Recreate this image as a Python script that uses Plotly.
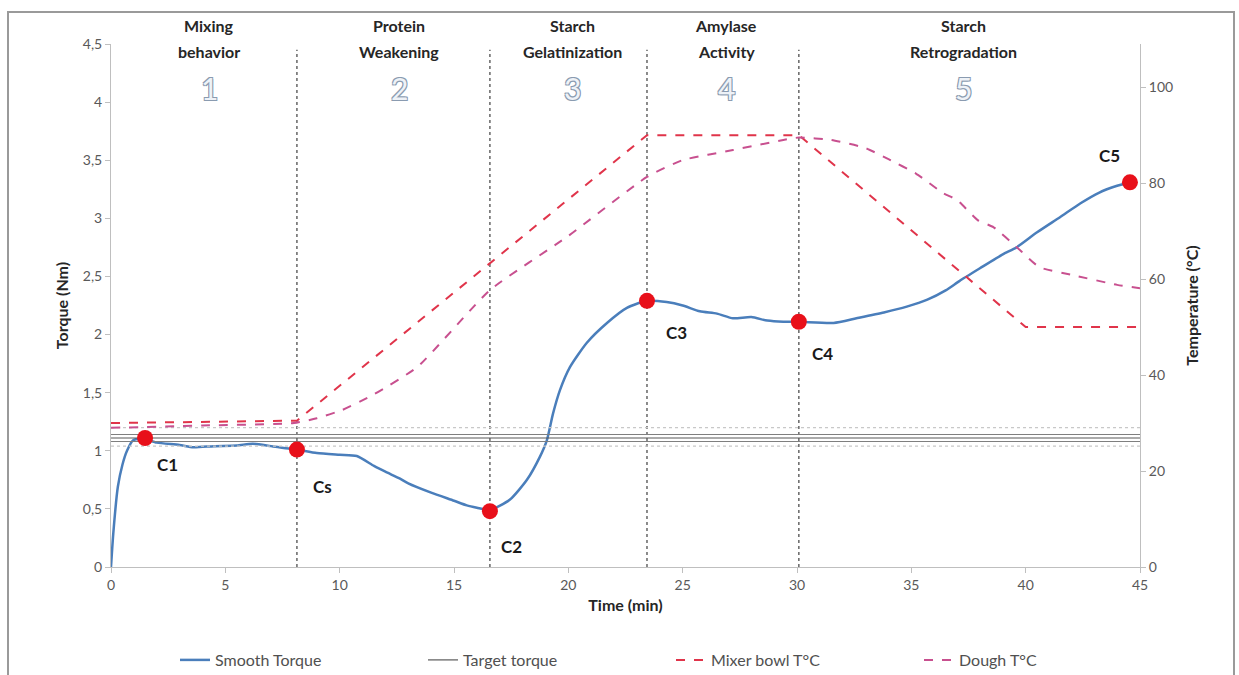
import plotly.graph_objects as go

# ---------------- data ----------------
torque_time = [0, 0.1, 0.3, 0.5, 0.7, 0.97, 1.4, 2.0, 3.0, 3.6, 4.5, 5.5, 6.2, 7.0, 8.13,
               9.0, 10.0, 10.75, 11.5, 12.0, 12.64, 13.0, 14.0, 15.0, 15.56, 16.0, 16.57,
               17.45, 18.19, 18.76, 19.06, 19.33, 19.63, 20.07, 20.81, 21.69, 22.56,
               23.44, 24.3, 25.0, 25.75, 26.5, 27.2, 28.0, 28.7, 29.4, 30.08, 31.6, 32.6,
               33.8, 34.8, 35.7, 36.5, 37.1, 38.0, 39.0, 39.6, 40.5, 41.5, 42.4, 43.2,
               44.0, 44.56]
smooth_torque = [0, 0.29, 0.69, 0.88, 1.0, 1.09, 1.10, 1.07, 1.05, 1.03, 1.04, 1.045, 1.06, 1.04, 1.01,
                 0.98, 0.965, 0.955, 0.87, 0.82, 0.76, 0.72, 0.64, 0.57, 0.53, 0.51, 0.49,
                 0.58, 0.75, 0.95, 1.09, 1.32, 1.52, 1.72, 1.93, 2.10, 2.23,
                 2.29, 2.28, 2.25, 2.20, 2.18, 2.14, 2.15, 2.12, 2.11, 2.11, 2.10, 2.14,
                 2.19, 2.24, 2.30, 2.38, 2.46, 2.57, 2.69, 2.75, 2.88, 3.01, 3.13, 3.22,
                 3.28, 3.31]

bowl_time = [0, 4.0, 8.13, 23.44, 30.08, 40.0, 45.0]
bowl_temp = [30.0, 30.3, 30.5, 90.0, 90.0, 50.0, 50.0]

dough_time = [0, 4.0, 8.0, 9.0, 10.1, 11.5, 13.4, 16.57, 20.0, 23.44, 25.0, 27.2, 29.4, 30.08,
              31.5, 33.0, 34.0, 35.2, 36.4, 37.0, 37.9, 38.6, 39.6, 40.6, 42.1, 44.0, 45.0]
dough_temp = [29.0, 29.5, 30.0, 31.0, 32.7, 36.0, 41.7, 57.7, 69.0, 81.3, 84.8, 86.9, 89.0, 89.5,
              89.0, 87.3, 85.0, 82.0, 77.9, 76.5, 72.3, 70.8, 66.7, 62.5, 60.8, 58.8, 58.1]

target_solid = [1.14, 1.11, 1.08]
target_dotted = [1.2, 1.04]

point_names = ["C1", "Cs", "C2", "C3", "C4", "C5"]
point_time = [1.49, 8.13, 16.57, 23.44, 30.08, 44.56]
point_torque = [1.11, 1.01, 0.48, 2.29, 2.11, 3.31]

phase_line1 = ["Mixing", "Protein", "Starch", "Amylase", "Starch"]
phase_line2 = ["behavior", "Weakening", "Gelatinization", "Activity", "Retrogradation"]
phase_numbers = ["1", "2", "3", "4", "5"]
phase_center = [4.3, 12.6, 20.2, 26.9, 37.3]
phase_bounds = [8.13, 16.57, 23.44, 30.08]

x_ticks = [0, 5, 10, 15, 20, 25, 30, 35, 40, 45]

# ---------------- figure ----------------
FONT = "Lato, 'Open Sans', sans-serif"
fig = go.Figure()

fig.add_trace(go.Scatter(x=torque_time, y=smooth_torque, mode="lines", name="Smooth Torque",
                         line=dict(color="#4A7EBB", width=2.5, shape="spline", smoothing=0.6), yaxis="y"))

for i, lvl in enumerate(target_solid):
    fig.add_trace(go.Scatter(x=[0, 45], y=[lvl, lvl], mode="lines", name="Target torque",
                             showlegend=(i == 1),
                             line=dict(color="#7f7f7f" if i != 1 else "#595959", width=1.2),
                             yaxis="y"))
for lvl in target_dotted:
    fig.add_trace(go.Scatter(x=[0, 45], y=[lvl, lvl], mode="lines", showlegend=False,
                             line=dict(color="#c8c8c8", width=1.2, dash="dot"), yaxis="y"))

fig.add_trace(go.Scatter(x=bowl_time, y=bowl_temp, mode="lines", name="Mixer bowl T°C",
                         line=dict(color="#E0344A", width=2, dash="dash"), yaxis="y2"))
fig.add_trace(go.Scatter(x=dough_time, y=dough_temp, mode="lines", name="Dough T°C",
                         line=dict(color="#C8508F", width=2, dash="dash", shape="spline", smoothing=0.5),
                         yaxis="y2"))

fig.add_trace(go.Scatter(x=point_time, y=point_torque, mode="markers", showlegend=False,
                         marker=dict(color="#E8101A", size=16, line=dict(width=0)), yaxis="y"))

# point labels
label_offsets = {"C1": (22, 27), "Cs": (26, 37), "C2": (22, 35), "C3": (30, 32), "C4": (24, 32), "C5": (-20, -27)}
annotations = []
for n, t, v in zip(point_names, point_time, point_torque):
    dx, dy = label_offsets[n]
    annotations.append(dict(x=t, y=v, xref="x", yref="y", text=f"<b>{n}</b>", showarrow=True,
                            arrowcolor="rgba(0,0,0,0)", ax=dx, ay=dy,
                            font=dict(family=FONT, size=17, color="#1a1a1a")))

# phase headings
def py2paper(py):
    return (567 - py) / 523.0

for l1, l2, num, c in zip(phase_line1, phase_line2, phase_numbers, phase_center):
    annotations.append(dict(x=c, y=py2paper(25), xref="x", yref="paper", text=f"<b>{l1}</b>",
                            showarrow=False, yanchor="middle",
                            font=dict(family=FONT, size=16, color="#262626")))
    annotations.append(dict(x=c, y=py2paper(52), xref="x", yref="paper", text=f"<b>{l2}</b>",
                            showarrow=False, yanchor="middle",
                            font=dict(family=FONT, size=16, color="#262626")))
    annotations.append(dict(x=c, y=py2paper(88), xref="x", yref="paper", text=num,
                            showarrow=False, yanchor="middle",
                            font=dict(family=FONT, size=30, color="#eef2f7",
                                      shadow="-1px -1px 0 #8a9bb0, 1px -1px 0 #8a9bb0, -1px 1px 0 #8a9bb0, 1px 1px 0 #8a9bb0")))

shapes = []
for b in phase_bounds:
    shapes.append(dict(type="line", xref="x", yref="y", x0=b, x1=b, y0=0, y1=4.45,
                       line=dict(color="#6f6f6f", width=1.6, dash="dot"), layer="below"))
# outer frame
shapes.append(dict(type="rect", xref="paper", yref="paper",
                   x0=(8 - 111) / 1029, x1=(1234 - 111) / 1029,
                   y0=py2paper(690), y1=py2paper(12),
                   line=dict(color="#9a9a9a", width=2)))

axis_common = dict(showgrid=False, zeroline=False, showline=True, linecolor="#bfbfbf", linewidth=1,
                   ticks="outside", ticklen=5, tickcolor="#bfbfbf", automargin=False,
                   tickfont=dict(family=FONT, size=14, color="#595959"))

fig.update_layout(
    width=1239, height=675,
    margin=dict(l=111, r=99, t=44, b=108, autoexpand=False),
    paper_bgcolor="white", plot_bgcolor="white",
    separators=",.",
    font=dict(family=FONT),
    xaxis=dict(range=[0, 45], tickvals=x_ticks,
               title=dict(text="<b>Time (min)</b>", font=dict(family=FONT, size=16, color="#262626"), standoff=8),
               **axis_common),
    yaxis=dict(range=[0, 4.5], dtick=0.5, tick0=0,
               title=dict(text="<b>Torque (Nm)</b>", font=dict(family=FONT, size=16, color="#262626"), standoff=10),
               **axis_common),
    yaxis2=dict(range=[0, 109], dtick=20, tick0=0, overlaying="y", side="right",
                title=dict(text="<b>Temperature (°C)</b>", font=dict(family=FONT, size=16, color="#262626"), standoff=14),
                **axis_common),
    legend=dict(orientation="h", x=(175 - 111) / 1029, xanchor="left", y=py2paper(660), yanchor="middle",
                font=dict(family=FONT, size=16, color="#505050"), bgcolor="rgba(0,0,0,0)",
                entrywidth=203, entrywidthmode="pixels", itemwidth=30,
                traceorder="normal"),
    annotations=annotations,
    shapes=shapes,
    showlegend=True,
)

fig.write_html("out.html", config={"displayModeBar": False},
               post_script="document.body.style.margin='0';document.body.style.overflow='hidden';")
